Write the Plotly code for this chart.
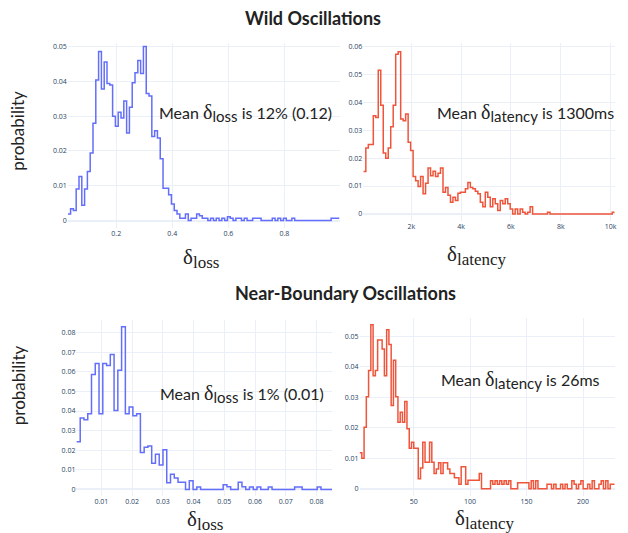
import plotly.graph_objects as go

# ---------------- data (probabilities per bin) -------------
wild_loss_start = 0.027
wild_loss_width = 0.01
wild_loss_prob = [
    0.0019, 0.0034, 0.0029, 0.0091, 0.0127, 0.0044, 0.0091, 0.0141, 0.0194, 0.0280,
    0.0404, 0.0486, 0.0378, 0.0456, 0.0394, 0.0390, 0.0300, 0.0271, 0.0311, 0.0295,
    0.0344, 0.0252, 0.0326, 0.0396, 0.0425, 0.0460, 0.0423, 0.0500, 0.0365, 0.0358,
    0.0242, 0.0258, 0.0237, 0.0178, 0.0093, 0.0093, 0.0074, 0.0048, 0.0029, 0.0019,
    0.0007, 0.0007, 0.0019, 0.0000, 0.0007, 0.0007, 0.0019, 0.0014, 0.0007, 0.0007,
    0.0000, 0.0007, 0.0000, 0.0007, 0.0000, 0.0007, 0.0000, 0.0011, 0.0007, 0.0000,
    0.0007, 0.0007, 0.0000, 0.0007, 0.0000, 0.0000, 0.0007, 0.0007, 0.0007, 0.0000,
    0.0000, 0.0000, 0.0000, 0.0007, 0.0000, 0.0007, 0.0000, 0.0007, 0.0000, 0.0000,
    0.0007, 0.0000, 0.0000, 0.0000, 0.0000, 0.0000, 0.0000, 0.0000, 0.0000, 0.0000,
    0.0000, 0.0000, 0.0000, 0.0000, 0.0007, 0.0007, 0.0007,
]

wild_lat_start = 70
wild_lat_width = 100
wild_lat_prob = [
    0.0152, 0.0236, 0.0249, 0.0249, 0.0352, 0.0346, 0.0515, 0.0390, 0.0218, 0.0200,
    0.0236, 0.0313, 0.0390, 0.0573, 0.0582, 0.0340, 0.0334, 0.0358, 0.0257, 0.0227,
    0.0134, 0.0119, 0.0098, 0.0134, 0.0072, 0.0110, 0.0165, 0.0137, 0.0153, 0.0134,
    0.0146, 0.0165, 0.0078, 0.0095, 0.0067, 0.0042, 0.0060, 0.0048, 0.0074, 0.0078,
    0.0078, 0.0090, 0.0113, 0.0095, 0.0090, 0.0081, 0.0072, 0.0042, 0.0026, 0.0078,
    0.0060, 0.0026, 0.0054, 0.0036, 0.0012, 0.0048, 0.0036, 0.0054, 0.0036, 0.0018,
    0.0000, 0.0018, 0.0000, 0.0018, 0.0006, 0.0000, 0.0006, 0.0026, 0.0000, 0.0000,
    0.0000, 0.0000, 0.0000, 0.0000, 0.0006, 0.0000, 0.0000, 0.0000, 0.0000, 0.0000,
    0.0000, 0.0000, 0.0000, 0.0000, 0.0000, 0.0000, 0.0000, 0.0000, 0.0000, 0.0000,
    0.0000, 0.0000, 0.0000, 0.0000, 0.0000, 0.0000, 0.0000, 0.0000, 0.0000, 0.0000,
    0.0006,
]

near_loss_start = 0.0019
near_loss_width = 0.001224
near_loss_prob = [
    0.0243, 0.0364, 0.0356, 0.0386, 0.0586, 0.0643, 0.0386, 0.0643, 0.0632, 0.0689,
    0.0403, 0.0608, 0.0830, 0.0386, 0.0420, 0.0376, 0.0386, 0.0188, 0.0215, 0.0222,
    0.0133, 0.0180, 0.0125, 0.0202, 0.0034, 0.0077, 0.0058, 0.0036, 0.0036, 0.0000,
    0.0044, 0.0000, 0.0012, 0.0000, 0.0000, 0.0000, 0.0000, 0.0000, 0.0000, 0.0024,
    0.0014, 0.0000, 0.0000, 0.0036, 0.0014, 0.0000, 0.0012, 0.0000, 0.0012, 0.0000,
    0.0000, 0.0012, 0.0000, 0.0000, 0.0000, 0.0000, 0.0000, 0.0000, 0.0012, 0.0012,
    0.0000, 0.0000, 0.0000, 0.0000, 0.0012, 0.0000, 0.0000, 0.0000,
]

near_lat_start = 2.1
near_lat_width = 2.0
near_lat_prob = [
    0.0118, 0.0100, 0.0202, 0.0302, 0.0388, 0.0538, 0.0371, 0.0388, 0.0488, 0.0488,
    0.0459, 0.0371, 0.0522, 0.0473, 0.0273, 0.0422, 0.0302, 0.0218, 0.0251, 0.0218,
    0.0286, 0.0197, 0.0133, 0.0153, 0.0133, 0.0133, 0.0033, 0.0068, 0.0153, 0.0087,
    0.0087, 0.0153, 0.0087, 0.0050, 0.0065, 0.0085, 0.0050, 0.0085, 0.0085, 0.0065,
    0.0050, 0.0050, 0.0036, 0.0036, 0.0015, 0.0072, 0.0072, 0.0015, 0.0028, 0.0028,
    0.0028, 0.0028, 0.0028, 0.0050, 0.0000, 0.0000, 0.0000, 0.0000, 0.0026, 0.0015,
    0.0026, 0.0015, 0.0026, 0.0015, 0.0026, 0.0015, 0.0026, 0.0000, 0.0000, 0.0000,
    0.0020, 0.0020, 0.0020, 0.0020, 0.0020, 0.0000, 0.0026, 0.0000, 0.0026, 0.0000,
    0.0000, 0.0000, 0.0000, 0.0015, 0.0015, 0.0000, 0.0015, 0.0000, 0.0000, 0.0015,
    0.0000, 0.0015, 0.0000, 0.0000, 0.0026, 0.0015, 0.0000, 0.0015, 0.0026, 0.0000,
    0.0000, 0.0015, 0.0000, 0.0026, 0.0000, 0.0000, 0.0015, 0.0026, 0.0000, 0.0026,
    0.0000, 0.0015, 0.0015,
]

section_titles = ["Wild Oscillations", "Near-Boundary Oscillations"]
x_titles = ["loss", "latency", "loss", "latency"]
mean_prefix = "Mean"
mean_suffixes = ["is 12% (0.12)", "is 1300ms", "is 1% (0.01)", "is 26ms"]

BLUE = "#636EFA"
RED = "#EF553B"
W, H = 628, 533


def step_xy(start, width, probs):
    xs = [start + i * width for i in range(len(probs) + 1)]
    ys = list(probs) + [probs[-1]]
    return xs, ys


def px_x(p):
    return p / W


def px_y(p):
    return 1 - p / H


fig = go.Figure()

panels = [
    (wild_loss_start, wild_loss_width, wild_loss_prob, BLUE, "x", "y"),
    (wild_lat_start, wild_lat_width, wild_lat_prob, RED, "x2", "y2"),
    (near_loss_start, near_loss_width, near_loss_prob, BLUE, "x3", "y3"),
    (near_lat_start, near_lat_width, near_lat_prob, RED, "x4", "y4"),
]
for s, w, p, c, xa, ya in panels:
    xs, ys = step_xy(s, w, p)
    fig.add_trace(go.Scatter(x=xs, y=ys, mode="lines", line=dict(color=c, width=1.5, shape="hv"),
                             xaxis=xa, yaxis=ya, showlegend=False, hoverinfo="skip"))

tickfont = dict(family="Open Sans, sans-serif", size=7, color="#2a3f5f")
grid = "#EBF0F8"


def ax(domain, rng, dtick, anchor, **kw):
    d = dict(domain=domain, range=rng, dtick=dtick, anchor=anchor, showgrid=True,
             gridcolor=grid, gridwidth=1, zeroline=True, zerolinecolor=grid, zerolinewidth=2,
             showline=False, ticks="", tickfont=tickfont, fixedrange=True)
    d.update(kw)
    return d


# panel geometry (pixels) -> domains
tl_x = [68, 340.6]; tl_y = [227, 42]
tr_x = [364.5, 616.7]; tr_y = [220, 42]
bl_x = [76.7, 333.3]; bl_y = [496, 320]
br_x = [360.7, 616.7]; br_y = [496, 318]

fig.update_layout(
    width=W, height=H, margin=dict(l=0, r=0, t=0, b=0),
    paper_bgcolor="white", plot_bgcolor="white", showlegend=False,
    xaxis=ax([px_x(tl_x[0]), px_x(tl_x[1])],
             [wild_loss_start, wild_loss_start + len(wild_loss_prob) * wild_loss_width], 0.2, "y"),
    yaxis=ax([px_y(tl_y[0]), px_y(tl_y[1])], [-0.00201, 0.05106], 0.01, "x"),
    xaxis2=ax([px_x(tr_x[0]), px_x(tr_x[1])],
              [wild_lat_start, wild_lat_start + len(wild_lat_prob) * wild_lat_width], 2000, "y2"),
    yaxis2=ax([px_y(tr_y[0]), px_y(tr_y[1])], [-0.0024, 0.06133], 0.01, "x2"),
    xaxis3=ax([px_x(bl_x[0]), px_x(bl_x[1])],
              [near_loss_start, near_loss_start + len(near_loss_prob) * near_loss_width], 0.01, "y3"),
    yaxis3=ax([px_y(bl_y[0]), px_y(bl_y[1])], [-0.00341, 0.08627], 0.01, "x3"),
    xaxis4=ax([px_x(br_x[0]), px_x(br_x[1])],
              [near_lat_start, near_lat_start + len(near_lat_prob) * near_lat_width], 50, "y4"),
    yaxis4=ax([px_y(br_y[0]), px_y(br_y[1])], [-0.00239, 0.0559], 0.01, "x4"),
)

anns = []
titlefont = dict(family="Lato, Open Sans, sans-serif", size=18, color="#222222")
anns.append(dict(text="<b>" + section_titles[0] + "</b>", x=px_x(314), y=px_y(17), font=titlefont))
anns.append(dict(text="<b>" + section_titles[1] + "</b>", x=px_x(347), y=px_y(293), font=titlefont))

labfont = dict(family="Lato, Open Sans, sans-serif", size=17, color="#222222")
anns.append(dict(text="probability", x=px_x(18), y=px_y(130), textangle=-90, font=labfont))
anns.append(dict(text="probability", x=px_x(18), y=px_y(385), textangle=-90, font=labfont))

SERIF = "Liberation Serif, DejaVu Serif, serif"
xtfont = dict(family=SERIF, size=21, color="#222222")
xt_pos = [(202, 258), (478, 255), (206, 520), (486, 519)]
for t, (mx, my) in zip(x_titles, xt_pos):
    anns.append(dict(text="δ<sub><span style='font-size:17px'>" + t + "</span></sub>",
                     x=px_x(mx), y=px_y(my), font=xtfont))

mfont = dict(family="Lato, Open Sans, sans-serif", size=16, color="#222222")
mean_pos = [(246.5, 112), (527, 112), (242.5, 394), (522, 380)]
for t, s, (mx, my) in zip(x_titles, mean_suffixes, mean_pos):
    txt = (mean_prefix + " <span style='font-family:" + SERIF + ";font-size:20px'>δ</span>"
           + "<sub><span style='font-size:15px'>" + t + "</span></sub> " + s)
    anns.append(dict(text=txt, x=px_x(mx), y=px_y(my), font=mfont))

for a in anns:
    a.update(xref="paper", yref="paper", showarrow=False, xanchor="center", yanchor="middle")
fig.update_layout(annotations=anns)

fig.write_html("out.html")
